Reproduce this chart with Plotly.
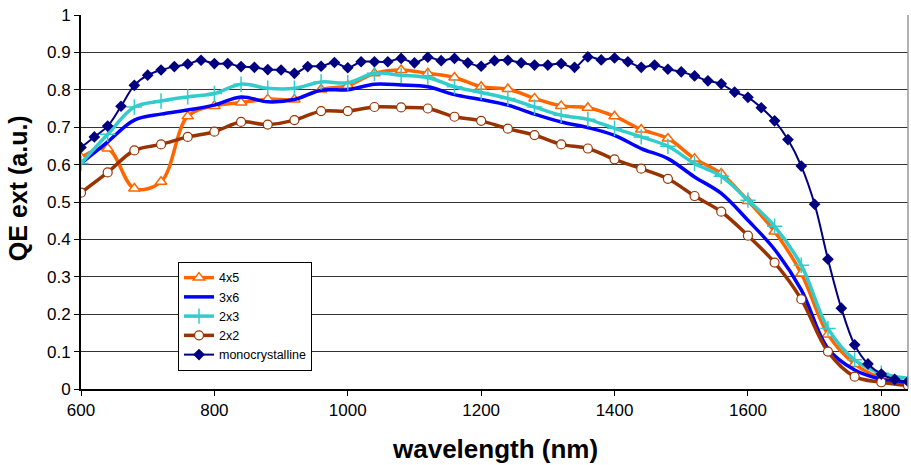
import plotly.graph_objects as go

wl_mono = [600, 620, 640, 660, 680, 700, 720, 740, 760, 780, 800, 820, 840, 860, 880, 900,
           920, 940, 960, 980, 1000, 1020, 1040, 1060, 1080, 1100, 1120, 1140, 1160, 1180,
           1200, 1220, 1240, 1260, 1280, 1300, 1320, 1340, 1360, 1380, 1400, 1420, 1440,
           1460, 1480, 1500, 1520, 1540, 1560, 1580, 1600, 1620, 1640, 1660, 1680, 1700,
           1720, 1740, 1760, 1780, 1800, 1820, 1840]
mono = [0.646, 0.674, 0.703, 0.756, 0.812, 0.839, 0.853, 0.862, 0.869, 0.879, 0.870, 0.870,
        0.862, 0.860, 0.854, 0.853, 0.844, 0.862, 0.863, 0.873, 0.859, 0.875, 0.875, 0.875,
        0.884, 0.872, 0.887, 0.878, 0.884, 0.872, 0.863, 0.878, 0.879, 0.872, 0.866, 0.866,
        0.870, 0.860, 0.888, 0.880, 0.885, 0.875, 0.860, 0.866, 0.855, 0.848, 0.837, 0.824,
        0.816, 0.794, 0.780, 0.752, 0.717, 0.667, 0.596, 0.494, 0.347, 0.216, 0.118, 0.067,
        0.040, 0.026, 0.020]

wl = [600, 640, 680, 720, 760, 800, 840, 880, 920, 960, 1000, 1040, 1080, 1120, 1160, 1200,
      1240, 1280, 1320, 1360, 1400, 1440, 1480, 1520, 1560, 1600, 1640, 1680, 1720, 1760,
      1800, 1840]
s4x5 = [0.619, 0.643, 0.536, 0.554, 0.729, 0.757, 0.766, 0.775, 0.774, 0.801, 0.811, 0.844,
        0.853, 0.844, 0.833, 0.808, 0.802, 0.777, 0.757, 0.752, 0.729, 0.694, 0.670, 0.616,
        0.576, 0.503, 0.421, 0.309, 0.146, 0.067, 0.029, 0.017]
s3x6 = [0.603, 0.661, 0.719, 0.735, 0.746, 0.759, 0.781, 0.768, 0.774, 0.799, 0.800, 0.815,
        0.813, 0.808, 0.787, 0.774, 0.759, 0.735, 0.714, 0.699, 0.678, 0.643, 0.616, 0.567,
        0.523, 0.451, 0.373, 0.265, 0.108, 0.051, 0.026, 0.015]
s2x3 = [0.603, 0.681, 0.754, 0.770, 0.781, 0.790, 0.815, 0.804, 0.804, 0.821, 0.819, 0.844,
        0.839, 0.833, 0.808, 0.793, 0.777, 0.754, 0.732, 0.721, 0.697, 0.674, 0.649, 0.603,
        0.569, 0.505, 0.435, 0.331, 0.162, 0.078, 0.042, 0.029]
s2x2 = [0.525, 0.579, 0.638, 0.654, 0.674, 0.688, 0.714, 0.707, 0.719, 0.743, 0.743, 0.754,
        0.753, 0.750, 0.728, 0.717, 0.696, 0.679, 0.654, 0.643, 0.614, 0.589, 0.562, 0.516,
        0.474, 0.410, 0.338, 0.240, 0.100, 0.033, 0.018, 0.009]

x_ticks = [600, 800, 1000, 1200, 1400, 1600, 1800]
y_ticks = [0, 0.1, 0.2, 0.3, 0.4, 0.5, 0.6, 0.7, 0.8, 0.9, 1]
y_labels = ["0", "0.1", "0.2", "0.3", "0.4", "0.5", "0.6", "0.7", "0.8", "0.9", "1"]

FONT = "Arial, Liberation Sans, sans-serif"

fig = go.Figure()
fig.add_trace(go.Scatter(x=wl, y=s4x5, name="4x5", mode="lines+markers",
                         line=dict(color="#FF6600", width=3.5, shape="spline", smoothing=1),
                         marker=dict(symbol="triangle-up", size=10, color="white",
                                     line=dict(color="#FF6600", width=1.5))))
fig.add_trace(go.Scatter(x=wl, y=s3x6, name="3x6", mode="lines",
                         line=dict(color="#0000FF", width=3.5, shape="spline", smoothing=1)))
fig.add_trace(go.Scatter(x=wl, y=s2x3, name="2x3", mode="lines+markers",
                         line=dict(color="#33CCCC", width=3.5, shape="spline", smoothing=1),
                         marker=dict(symbol="cross-thin", size=11, color="#33CCCC",
                                     line=dict(color="#33CCCC", width=1.5))))
fig.add_trace(go.Scatter(x=wl, y=s2x2, name="2x2", mode="lines+markers",
                         line=dict(color="#993300", width=3.5, shape="spline", smoothing=1),
                         marker=dict(symbol="circle", size=9, color="white",
                                     line=dict(color="#993300", width=1.2))))
fig.add_trace(go.Scatter(x=wl_mono, y=mono, name="monocrystalline", mode="lines+markers",
                         line=dict(color="#000080", width=2, shape="spline", smoothing=1),
                         marker=dict(symbol="diamond", size=9, color="#000080")))

fig.update_layout(
    width=911, height=465,
    margin=dict(l=81, r=3, t=15, b=76),
    plot_bgcolor="white", paper_bgcolor="white",
    font=dict(family=FONT, color="black"),
    showlegend=True,
    legend=dict(x=0.1173, y=0.3396, xanchor="left", yanchor="top",
                bgcolor="white", bordercolor="black", borderwidth=1,
                font=dict(size=12.5, family=FONT),
                tracegroupgap=0, itemwidth=30),
    xaxis=dict(range=[600, 1840], tickvals=x_ticks, ticktext=[str(v) for v in x_ticks],
               showgrid=False, zeroline=False, showline=True, linecolor="black", linewidth=2,
               ticks="outside", ticklen=5, tickcolor="black", tickwidth=1,
               tickfont=dict(size=17), automargin=False),
    yaxis=dict(range=[0, 1], tickvals=y_ticks, ticktext=y_labels,
               showgrid=True, gridcolor="#333333", gridwidth=1, zeroline=False,
               showline=True, linecolor="black", linewidth=2,
               ticks="outside", ticklen=5, tickcolor="black", tickwidth=1,
               tickfont=dict(size=17), automargin=False),
    annotations=[
        dict(text="<b>wavelength (nm)</b>", xref="paper", yref="paper", x=0.501, y=0,
             xanchor="center", yanchor="middle", yshift=-60, showarrow=False,
             font=dict(size=26, family=FONT)),
        dict(text="<b>QE ext (a.u.)</b>", xref="paper", yref="paper", x=0, y=0.537,
             xanchor="center", yanchor="middle", xshift=-63, textangle=-90, showarrow=False,
             font=dict(size=25, family=FONT)),
    ],
)
fig.add_shape(type="line", xref="paper", yref="paper", x0=1, x1=1, y0=0, y1=1,
              line=dict(color="#999999", width=1.5))
fig.write_html("out.html", post_script="document.body.style.margin='0px';",
               config={"displayModeBar": False})
